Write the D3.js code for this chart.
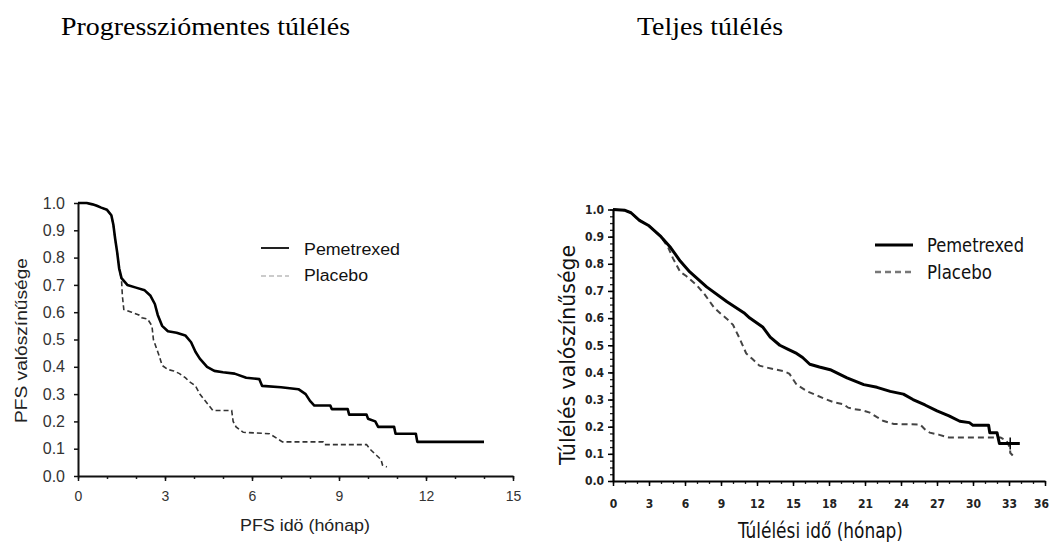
<!DOCTYPE html>
<html><head><meta charset="utf-8">
<script src="https://cdn.jsdelivr.net/npm/d3@7"></script>
<style>
body{margin:0;background:#fff;}
svg{display:block;}
.narrow{font-family:"Liberation Sans Narrow","DejaVu Sans Condensed","Arial Narrow",sans-serif;font-stretch:condensed;}
.sans{font-family:"Liberation Sans",Arial,sans-serif;}
</style></head>
<body>
<svg id="c" width="1052" height="542"></svg>
<script>
// ---------- data ----------
const titles = ["Progressziómentes túlélés", "Teljes túlélés"];
const seriesNames = ["Pemetrexed", "Placebo"];

// PFS (months, survival probability)
const pfsPemetrexed = [[0,1.0],[0.3,1.0],[0.5,0.995],[0.65,0.99],[0.8,0.983],[1.0,0.975],[1.15,0.955],[1.22,0.92],[1.28,0.87],[1.35,0.82],[1.42,0.76],[1.5,0.725],[1.7,0.70],[2.0,0.69],[2.3,0.68],[2.5,0.66],[2.65,0.63],[2.75,0.59],[2.9,0.55],[3.1,0.53],[3.4,0.525],[3.7,0.515],[3.9,0.49],[4.05,0.455],[4.2,0.43],[4.45,0.40],[4.7,0.385],[5.0,0.38],[5.4,0.375],[5.8,0.36],[6.25,0.355],[6.35,0.33],[7.0,0.325],[7.6,0.318],[7.85,0.30],[8.0,0.275],[8.15,0.258],[8.7,0.258],[8.75,0.245],[9.3,0.245],[9.35,0.225],[9.95,0.225],[10.0,0.21],[10.25,0.20],[10.35,0.18],[10.9,0.18],[10.95,0.155],[11.65,0.155],[11.7,0.125],[14.0,0.125]];
const pfsPlacebo = [[0,1.0],[0.3,1.0],[0.5,0.995],[0.65,0.99],[0.8,0.983],[1.0,0.975],[1.15,0.955],[1.22,0.92],[1.28,0.87],[1.35,0.82],[1.42,0.76],[1.5,0.72],[1.53,0.66],[1.58,0.61],[1.85,0.60],[2.1,0.59],[2.2,0.58],[2.4,0.575],[2.55,0.55],[2.6,0.50],[2.7,0.47],[2.8,0.44],[2.9,0.405],[3.1,0.39],[3.3,0.385],[3.5,0.375],[3.7,0.36],[3.85,0.345],[4.05,0.33],[4.2,0.30],[4.35,0.28],[4.5,0.26],[4.65,0.24],[5.3,0.24],[5.35,0.20],[5.45,0.18],[5.7,0.16],[6.6,0.155],[6.9,0.135],[7.05,0.125],[8.45,0.125],[8.5,0.115],[9.95,0.115],[10.1,0.095],[10.3,0.075],[10.45,0.06],[10.5,0.04],[10.65,0.033]];

// Overall survival (months, survival probability)
const osPemetrexed = [[0,1.0],[1.0,0.997],[1.5,0.988],[2.2,0.96],[3.0,0.94],[4.0,0.90],[4.8,0.86],[5.6,0.81],[6.4,0.77],[7.8,0.715],[9.5,0.66],[10.9,0.62],[11.4,0.60],[12.5,0.566],[13.1,0.53],[13.9,0.50],[14.6,0.485],[15.3,0.47],[15.8,0.455],[16.4,0.43],[17.2,0.42],[18.1,0.41],[19.5,0.38],[20.9,0.355],[22.0,0.345],[23.1,0.33],[24.2,0.32],[25.0,0.30],[26.0,0.28],[27.0,0.258],[28.0,0.24],[28.9,0.22],[29.7,0.215],[30.0,0.205],[31.3,0.205],[31.4,0.178],[32.0,0.178],[32.2,0.138],[33.9,0.138]];
const osPlacebo = [[0,1.0],[1.0,0.997],[1.5,0.988],[2.2,0.96],[3.0,0.94],[4.0,0.90],[4.6,0.86],[5.0,0.82],[5.6,0.77],[6.1,0.755],[7.0,0.72],[7.6,0.69],[8.4,0.64],[9.0,0.615],[9.5,0.597],[10.0,0.575],[10.5,0.53],[11.1,0.47],[11.6,0.45],[12.2,0.425],[12.8,0.418],[13.6,0.41],[14.2,0.405],[14.7,0.395],[15.3,0.355],[16.2,0.33],[17.0,0.315],[17.8,0.30],[18.4,0.29],[19.2,0.283],[19.6,0.27],[20.1,0.265],[20.8,0.26],[21.4,0.252],[22.0,0.235],[22.5,0.222],[23.4,0.21],[25.6,0.208],[26.0,0.19],[26.4,0.178],[27.2,0.17],[28.0,0.16],[32.3,0.16],[32.8,0.148],[33.1,0.12],[33.1,0.104],[33.5,0.085]];
const osPemetrexedCensor = [33.1];

const pfsXTicks = [0,3,6,9,12,15];
const osXTicks = [0,3,6,9,12,15,18,21,24,27,30,33,36];
const yTicks = [0,0.1,0.2,0.3,0.4,0.5,0.6,0.7,0.8,0.9,1.0];

// ---------- drawing ----------
const svg = d3.select("#c");
const serif = "'Liberation Serif','Times New Roman',serif";

svg.append("text").attr("x",61).attr("y",35).attr("font-family",serif)
  .attr("font-size",25).attr("textLength",289).attr("lengthAdjust","spacingAndGlyphs").attr("fill","#000").text(titles[0]);
svg.append("text").attr("x",637).attr("y",35).attr("font-family",serif)
  .attr("font-size",25).attr("textLength",146).attr("lengthAdjust","spacingAndGlyphs").attr("fill","#000").text(titles[1]);

// ===== Left chart =====
const xL = d3.scaleLinear().domain([0,15]).range([78,513]);
const yL = d3.scaleLinear().domain([0,1]).range([476,203]);
const gL = svg.append("g").attr("class","sans");

gL.append("g").attr("transform","translate(0,476)")
  .call(d3.axisBottom(xL).tickValues(d3.range(0,16,1)).tickSize(3).tickFormat(""))
  .call(g=>g.select(".domain").remove())
  .call(g=>g.selectAll("line").attr("stroke","#222").attr("stroke-width",1.5));
gL.append("g").attr("transform","translate(0,476)")
  .call(d3.axisBottom(xL).tickValues(pfsXTicks).tickSize(5).tickPadding(10).tickSizeOuter(0).tickFormat(d3.format("d")))
  .call(g=>g.select(".domain").attr("stroke","#111").attr("stroke-width",2))
  .call(g=>g.selectAll("line").attr("stroke","#111").attr("stroke-width",1.5))
  .call(g=>g.selectAll("text").attr("font-size",14).attr("fill","#333").attr("font-family","'Liberation Sans',Arial,sans-serif"));
gL.append("g").attr("transform","translate(78,0)")
  .call(d3.axisLeft(yL).tickValues(yTicks).tickSize(4).tickPadding(9).tickSizeOuter(0).tickFormat(d3.format(".1f")))
  .call(g=>g.select(".domain").attr("stroke","#111").attr("stroke-width",2))
  .call(g=>g.selectAll("line").attr("stroke","#111").attr("stroke-width",1.5))
  .call(g=>g.selectAll("text").attr("font-size",16).attr("fill","#333").attr("font-family","'Liberation Sans',Arial,sans-serif"));

const lineL = d3.line().x(d=>xL(d[0])).y(d=>yL(d[1]));
gL.append("path").datum(pfsPlacebo).attr("d",lineL).attr("fill","none")
  .attr("stroke","#333").attr("stroke-width",1.6).attr("stroke-dasharray","5,3");
gL.append("path").datum(pfsPemetrexed).attr("d",lineL).attr("fill","none")
  .attr("stroke","#000").attr("stroke-width",2.6).attr("stroke-linejoin","round");

// legend left
gL.append("line").attr("x1",261).attr("x2",289).attr("y1",248).attr("y2",248).attr("stroke","#222").attr("stroke-width",2);
gL.append("line").attr("x1",261).attr("x2",289).attr("y1",276).attr("y2",276).attr("stroke","#bbb").attr("stroke-width",1.6).attr("stroke-dasharray","5,3");
gL.append("text").attr("x",304).attr("y",255).attr("font-size",16).attr("textLength",96).attr("lengthAdjust","spacingAndGlyphs").attr("fill","#111").text(seriesNames[0]);
gL.append("text").attr("x",304).attr("y",281).attr("font-size",16).attr("textLength",64).attr("lengthAdjust","spacingAndGlyphs").attr("fill","#111").text(seriesNames[1]);

// axis titles left
gL.append("text").attr("x",240).attr("y",531).attr("font-size",16).attr("textLength",130).attr("lengthAdjust","spacingAndGlyphs").attr("fill","#222").text("PFS idö (hónap)");
gL.append("text").attr("transform","translate(27,423) rotate(-90)").attr("font-size",16).attr("textLength",165).attr("lengthAdjust","spacingAndGlyphs").attr("fill","#222").text("PFS valószínűsége");

// ===== Right chart =====
const xR = d3.scaleLinear().domain([0,36]).range([613,1045]);
const yR = d3.scaleLinear().domain([0,1]).range([481,209.5]);
const gR = svg.append("g").attr("class","narrow");

gR.append("g").attr("transform","translate(0,481)")
  .call(d3.axisBottom(xR).tickValues(d3.range(0,37,1)).tickSize(3).tickFormat(""))
  .call(g=>g.select(".domain").remove())
  .call(g=>g.selectAll("line").attr("stroke","#222").attr("stroke-width",1.3));
gR.append("g").attr("transform","translate(613,0)")
  .call(d3.axisLeft(yR).tickValues(d3.range(0,1.0001,0.025)).tickSize(3).tickFormat(""))
  .call(g=>g.select(".domain").remove())
  .call(g=>g.selectAll("line").attr("stroke","#222").attr("stroke-width",1.3));
gR.append("g").attr("transform","translate(0,481)")
  .call(d3.axisBottom(xR).tickValues(osXTicks).tickSize(5).tickPadding(13).tickSizeOuter(0).tickFormat(d3.format("d")))
  .call(g=>g.select(".domain").attr("stroke","#000").attr("stroke-width",2.2))
  .call(g=>g.selectAll("line").attr("stroke","#000").attr("stroke-width",1.5))
  .call(g=>g.selectAll("text").attr("font-size",12).attr("font-weight","bold").attr("fill","#222").attr("font-family","'Liberation Sans Narrow','DejaVu Sans Condensed',sans-serif")
    .attr("dx",d=>d===36?-4:0));
gR.append("g").attr("transform","translate(613,0)")
  .call(d3.axisLeft(yR).tickValues(yTicks).tickSize(5).tickPadding(4).tickSizeOuter(0).tickFormat(d3.format(".1f")))
  .call(g=>g.select(".domain").attr("stroke","#000").attr("stroke-width",2.2))
  .call(g=>g.selectAll("line").attr("stroke","#000").attr("stroke-width",1.5))
  .call(g=>g.selectAll("text").attr("font-size",12).attr("font-weight","bold").attr("fill","#222").attr("font-family","'Liberation Sans Narrow','DejaVu Sans Condensed',sans-serif"));

const lineR = d3.line().x(d=>xR(d[0])).y(d=>yR(d[1]));
gR.append("path").datum(osPlacebo).attr("d",lineR).attr("fill","none")
  .attr("stroke","#444").attr("stroke-width",2).attr("stroke-dasharray","6,4");
gR.append("path").datum(osPemetrexed).attr("d",lineR).attr("fill","none")
  .attr("stroke","#000").attr("stroke-width",3).attr("stroke-linejoin","round");
gR.selectAll("line.censor").data(osPemetrexedCensor).enter().append("line").attr("class","censor")
  .attr("x1",d=>xR(d)).attr("x2",d=>xR(d))
  .attr("y1",d=>yR(d3.least(osPemetrexed.filter(p=>p[0]<=d),p=>-p[0])[1])-6)
  .attr("y2",d=>yR(d3.least(osPemetrexed.filter(p=>p[0]<=d),p=>-p[0])[1])+6)
  .attr("stroke","#000").attr("stroke-width",1.5);

// legend right
gR.append("line").attr("x1",875).attr("x2",913).attr("y1",245).attr("y2",245).attr("stroke","#000").attr("stroke-width",3);
gR.append("line").attr("x1",875).attr("x2",913).attr("y1",272).attr("y2",272).attr("stroke","#777").attr("stroke-width",2.5).attr("stroke-dasharray","6,4");
gR.append("text").attr("x",927).attr("y",252).attr("font-size",19).attr("textLength",97).attr("lengthAdjust","spacingAndGlyphs").attr("fill","#111").text(seriesNames[0]);
gR.append("text").attr("x",927).attr("y",279).attr("font-size",19).attr("textLength",65).attr("lengthAdjust","spacingAndGlyphs").attr("fill","#111").text(seriesNames[1]);

// axis titles right
gR.append("text").attr("x",738).attr("y",538).attr("font-size",21).attr("textLength",165).attr("lengthAdjust","spacingAndGlyphs").attr("fill","#111").text("Túlélési idő (hónap)");
gR.append("text").attr("transform","translate(575,465) rotate(-90)").attr("font-size",21).attr("textLength",220).attr("lengthAdjust","spacingAndGlyphs").attr("fill","#111").text("Túlélés valószínűsége");
</script>
</body></html>
